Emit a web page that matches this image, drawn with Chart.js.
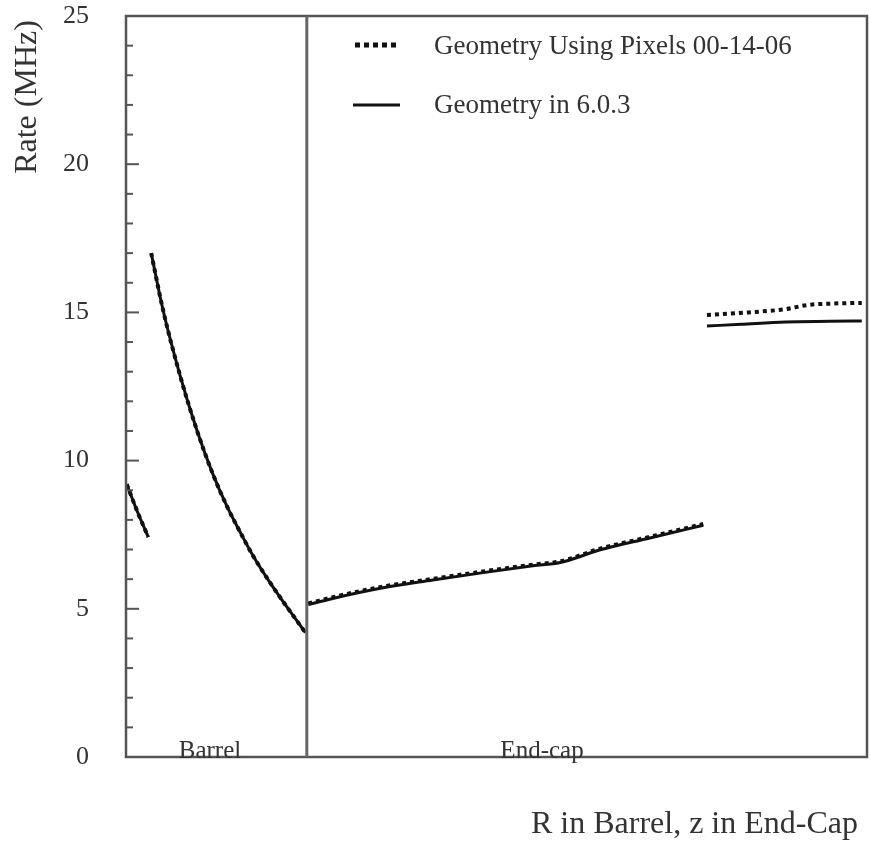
<!DOCTYPE html>
<html>
<head>
<meta charset="utf-8">
<script src="https://cdn.jsdelivr.net/npm/chart.js@4.4.0/dist/chart.umd.min.js"></script>
<style>
  html, body { margin: 0; background: #fff; }
  #wrap { width: 870px; height: 841px; }
</style>
</head>
<body>
<div id="wrap"><canvas id="rateChart"></canvas></div>
<script>
// --- data (x in arbitrary units 0..100 across the frame) ---
const seriesNames = ['Geometry Using Pixels 00-14-06', 'Geometry in 6.0.3'];
const regionNames = ['Barrel', 'End-cap'];
const barrelEdge = 24.4;
const yTickLabels = [0, 5, 10, 15, 20, 25];

// null = gap between detector sections
const pixelsX = [0.1, 1.5, 3.0, null,
  3.4, 5.0, 7.3, 9.6, 11.7, 13.6, 15.4, 17.1, 19.8, 24.2, null,
  24.6, 27.9, 34.7, 41.4, 48.2, 54.9, 58.6, 64.0, 70.7, 77.9, null,
  78.4, 84.0, 89.0, 92.0, 95.5, 99.3];
const pixelsY = [9.2, 8.3, 7.42, null,
  17.0, 15.08, 12.87, 11.0, 9.56, 8.47, 7.59, 6.81, 5.75, 4.2, null,
  5.18, 5.39, 5.75, 6.01, 6.26, 6.49, 6.6, 7.03, 7.43, 7.86, null,
  14.91, 15.0, 15.11, 15.25, 15.3, 15.32];

const geomX = [0.1, 1.5, 3.0, null,
  3.4, 5.0, 7.3, 9.6, 11.7, 13.6, 15.4, 17.1, 19.8, 24.2, null,
  24.6, 27.9, 34.7, 41.4, 48.2, 54.9, 58.6, 64.0, 70.7, 77.9, null,
  78.4, 83.0, 89.0, 95.0, 99.3];
const geomY = [9.2, 8.3, 7.42, null,
  17.0, 15.08, 12.87, 11.0, 9.56, 8.47, 7.59, 6.81, 5.75, 4.2, null,
  5.14, 5.35, 5.71, 5.97, 6.22, 6.45, 6.56, 6.99, 7.39, 7.82, null,
  14.54, 14.6, 14.68, 14.7, 14.71];

function toPoints(xs, ys) {
  return xs.map((x, i) => ({ x: x === null ? NaN : x, y: ys[i] }));
}

const serif = '"Liberation Serif", "DejaVu Serif", serif';
const ink = '#111';
const frameColor = '#555';
const textColor = '#333';

// frame, inward ticks, tick labels, divider, legend and titles
const decorations = {
  id: 'decorations',
  afterDatasetsDraw(chart) {
    const { ctx, chartArea: a, scales } = chart;
    const xs = scales.x, ys = scales.y;
    ctx.save();
    ctx.strokeStyle = frameColor;
    ctx.lineWidth = 2.5;
    ctx.strokeRect(a.left, a.top, a.right - a.left, a.bottom - a.top);

    // inward y ticks: every unit, longer and labelled every 5
    ctx.lineWidth = 2;
    ctx.fillStyle = textColor;
    ctx.font = '26px ' + serif;
    ctx.textAlign = 'right';
    ctx.textBaseline = 'middle';
    for (let v = ys.min; v <= ys.max; v++) {
      const py = ys.getPixelForValue(v);
      const major = yTickLabels.includes(v);
      ctx.beginPath();
      ctx.moveTo(a.left, py);
      ctx.lineTo(a.left + (major ? 13 : 7), py);
      ctx.stroke();
      if (major) ctx.fillText(String(v), 89, py);
    }

    // barrel / end-cap divider
    const dx = xs.getPixelForValue(barrelEdge);
    ctx.lineWidth = 3;
    ctx.strokeStyle = '#666';
    ctx.beginPath();
    ctx.moveTo(dx, a.top);
    ctx.lineTo(dx, a.bottom);
    ctx.stroke();

    ctx.font = '25px ' + serif;
    ctx.textAlign = 'center';
    ctx.textBaseline = 'alphabetic';
    ctx.fillText(regionNames[0], 210, a.bottom + 1);
    ctx.fillText(regionNames[1], 542, a.bottom + 1);

    // legend
    ctx.font = '27px ' + serif;
    ctx.textAlign = 'left';
    ctx.textBaseline = 'middle';
    ctx.fillText(seriesNames[0], 434, 47);
    ctx.fillText(seriesNames[1], 434, 106);
    ctx.strokeStyle = ink;
    ctx.lineWidth = 5;
    ctx.setLineDash([5, 4]);
    ctx.beginPath();
    ctx.moveTo(355, 45);
    ctx.lineTo(400, 45);
    ctx.stroke();
    ctx.setLineDash([]);
    ctx.lineWidth = 3;
    ctx.beginPath();
    ctx.moveTo(353, 105);
    ctx.lineTo(400, 105);
    ctx.stroke();

    // axis titles
    ctx.font = '32px ' + serif;
    ctx.textAlign = 'right';
    ctx.textBaseline = 'middle';
    ctx.fillText('R in Barrel, z in End-Cap', 858, 825);
    ctx.translate(28, 97);
    ctx.rotate(-Math.PI / 2);
    ctx.textAlign = 'center';
    ctx.fillText('Rate (MHz)', 0, 0);
    ctx.restore();
  }
};

new Chart(document.getElementById('rateChart'), {
  type: 'line',
  data: {
    datasets: [
      {
        label: seriesNames[1],
        data: toPoints(geomX, geomY),
        borderColor: ink,
        borderWidth: 3,
        pointRadius: 0,
        cubicInterpolationMode: 'monotone',
        spanGaps: false
      },
      {
        label: seriesNames[0],
        data: toPoints(pixelsX, pixelsY),
        borderColor: ink,
        borderWidth: 4,
        borderDash: [4, 4],
        pointRadius: 0,
        cubicInterpolationMode: 'monotone',
        spanGaps: false
      }
    ]
  },
  options: {
    responsive: true,
    maintainAspectRatio: false,
    animation: false,
    layout: { padding: { top: 16, right: 3, bottom: 84, left: 126 } },
    plugins: { legend: { display: false }, tooltip: { enabled: false } },
    scales: {
      x: { type: 'linear', min: 0, max: 100, display: false },
      y: { type: 'linear', min: 0, max: 25, display: false }
    }
  },
  plugins: [decorations]
});
</script>
</body>
</html>
